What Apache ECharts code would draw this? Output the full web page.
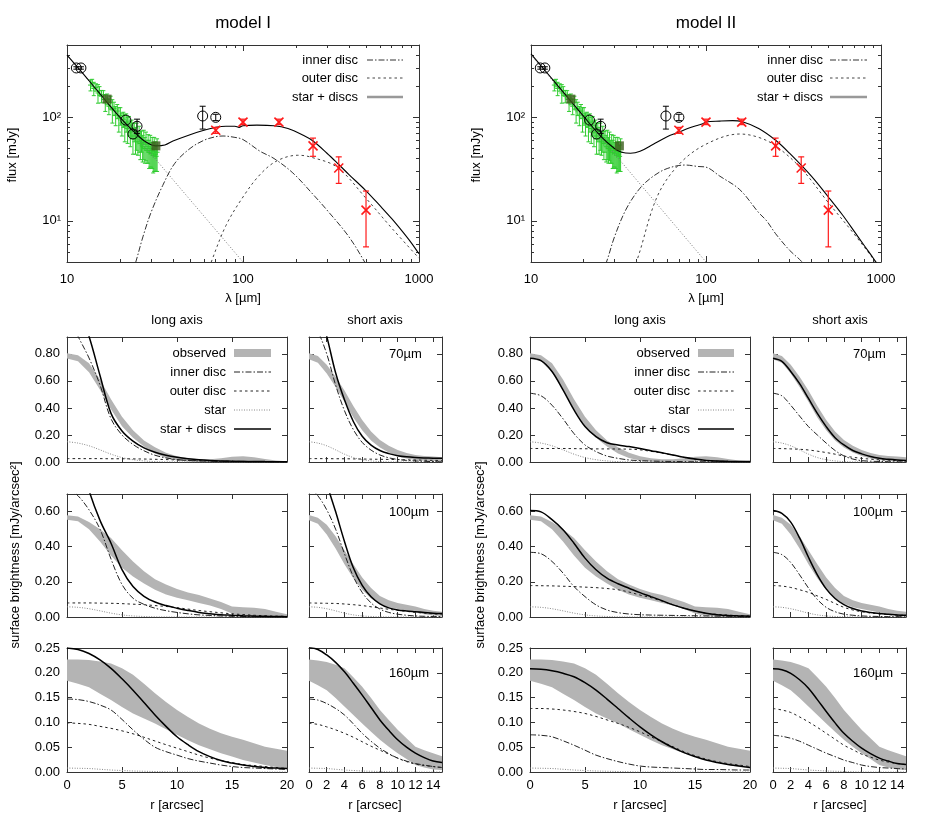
<!DOCTYPE html>
<html><head><meta charset="utf-8">
<script src="https://cdn.jsdelivr.net/npm/echarts@6/dist/echarts.min.js"></script>
<style>html,body{margin:0;padding:0;background:#fff}#c{width:926px;height:834px}</style>
</head><body><div id="c"></div>
<script>
// ================= SED DATA (lambda [um], flux [mJy]) =================
const lamTicksMajor = [10, 100, 1000];
const lamTicksMinor = [20,30,40,50,60,70,80,90,200,300,400,500,600,700,800,900];
const fluxTicksMajor = [10, 100];
const fluxTicksMinor = [5,6,7,8,9,20,30,40,50,60,70,80,90,200,300,400];

const starSED = [[10,400],[30,44.4],[100,4],[110,3.3]];

const m1Total = [[10,400],[12,280],[15,178],[20,100],[25,68],[28,58],[32,53],[36,54],[40,59],[50,68],[60,75],[70,80],[80,82],[90,82],[95,80],[100,83],[120,84],[150,83],[180,78],[220,67],[250,59],[300,45],[350,35],[400,28],[500,19.5],[600,14],[700,10.5],[800,8],[900,6.2],[1000,4.8]];
const m1Inner = [[20,1.5],[24,3.5],[27,7],[30,12],[35,22],[41,36],[50,50],[60,60],[70,65],[77,66],[90,64],[100,61],[125,47],[150,40],[192,29],[250,18],[300,12.7],[400,7],[500,3.8],[600,2.2]];
const m1Outer = [[60,2.5],[66,4],[80,9],[100,17],[125,28],[156,38],[205,43],[240,41.5],[342,33],[500,16.5],[700,8.5],[1000,4.35]];

const m2Total = [[10,410],[12,285],[15,182],[20,102],[25,66],[30,50],[33,46],[37,45],[42,47],[50,55],[60,65],[70,72],[80,79],[90,84],[95,86],[100,90],[120,92],[142,93],[160,91],[200,78],[250,60],[300,45],[400,27],[500,17],[600,11.5],[700,8],[800,5.8],[900,4.4],[1000,3.4]];
const m2Inner = [[25,3],[27,4],[30,7],[35,13],[42,20.7],[50,27],[60,32],[76,34.6],[90,33.5],[100,33],[120,27],[156,20],[200,12],[222,10],[250,7.5],[300,5.2],[354,4],[400,3]];
const m2Outer = [[35,2.5],[40,4],[52.5,17],[70,35],[100,55],[156,69],[200,64],[250,53],[350,32],[500,15],[700,7.5],[930,4],[1000,3.3]];

// Spitzer IRS spectrum points: [lambda, flux, error]
const irsPoints = [[13.6,205,25],[13.9,215,18],[14.2,190,28],[14.6,195,16],[15.0,172,35],[15.3,180,18],[15.7,160,22],[16.1,165,16],[16.5,140,26],[16.9,150,18],[17.3,128,22],[17.7,140,20],[18.1,118,30],[18.5,122,18],[18.9,105,22],[19.3,115,18],[19.7,98,26],[20.1,104,20],[20.5,88,22],[20.9,96,16],[21.3,82,24],[21.7,90,18],[22.1,78,22],[22.5,84,18],[22.9,72,20],[23.3,78,16],[23.7,66,22],[24.1,73,15],[24.5,62,18],[24.9,68,20],[25.3,58,15],[25.7,64,18],[26.1,56,17],[26.5,60,14],[26.9,52,15],[27.3,57,18],[27.7,50,14],[28.1,55,17],[28.5,48,12],[28.9,52,16],[29.3,46,14],[29.7,50,17],[30.1,45,12],[30.5,48,16],[30.9,43,14],[31.3,47,17],[31.7,44,14],[32.1,42,12],[32.5,46,16]];
const irsBins = [[16.9,150],[32,53]];
// other photometry: [lambda, flux, low, high]
const photPoints = [[11.3,300,292,308],[12.0,300,292,308],[21.6,94,94,94],[25,82,70,96],[23.7,69,69,69],[59,103,77,128],[70,100,93,107]];
// Herschel photometry: [lambda, flux, low, high]
const herschelPoints = [[70,75,70,80],[100,90,85,96],[160,90,85,96],[250,53,42,63],[350,32.4,23,41.5],[500,12.7,5.6,19.4]];

// ================= PROFILE DATA =================
const rLong = [0,1,2,3,4,5,6,7,8,9,10,11,12,13,14,15,16,17,18,19,20];
const rShort = [0,1,2,3,4,5,6,7,8,9,10,11,12,13,14,15];
const longTicks = [0,5,10,15,20];
const shortTicks = [0,2,4,6,8,10,12,14];
const yTicks70 = [0,0.2,0.4,0.6,0.8];
const yTicks100 = [0,0.2,0.4,0.6];
const yTicks160 = [0,0.05,0.10,0.15,0.20,0.25];

// observed bands
const obs70LongLo  = [0.765,0.745,0.665,0.535,0.39,0.265,0.18,0.115,0.062,0.03,0.012,0.004,0.0,0.0,0.002,0.01,0.012,0.008,0.003,0.0,0.0];
const obs70LongHi  = [0.805,0.79,0.73,0.61,0.465,0.335,0.235,0.16,0.11,0.068,0.042,0.028,0.02,0.02,0.028,0.038,0.042,0.035,0.022,0.012,0.006];
const obs70ShortLo = [0.76,0.735,0.655,0.555,0.445,0.33,0.235,0.16,0.108,0.07,0.044,0.025,0.015,0.01,0.007,0.005];
const obs70ShortHi = [0.805,0.785,0.72,0.63,0.53,0.415,0.31,0.225,0.163,0.12,0.089,0.066,0.052,0.045,0.04,0.035];
const obs100LongLo  = [0.554,0.545,0.50,0.43,0.35,0.28,0.23,0.19,0.155,0.128,0.11,0.095,0.08,0.065,0.045,0.02,0.005,0.002,0.0,0.0,0.0];
const obs100LongHi  = [0.579,0.572,0.54,0.50,0.45,0.38,0.316,0.26,0.215,0.185,0.16,0.14,0.125,0.105,0.085,0.06,0.055,0.052,0.045,0.03,0.015];
const obs100ShortLo = [0.55,0.53,0.47,0.39,0.30,0.22,0.155,0.105,0.075,0.055,0.045,0.035,0.025,0.015,0.008,0.005];
const obs100ShortHi = [0.58,0.565,0.525,0.46,0.38,0.30,0.225,0.165,0.12,0.095,0.08,0.07,0.06,0.045,0.035,0.03];
const obs160LongLo  = [0.184,0.178,0.171,0.158,0.145,0.131,0.118,0.108,0.098,0.086,0.075,0.064,0.054,0.046,0.038,0.031,0.024,0.019,0.014,0.01,0.007];
const obs160LongHi  = [0.227,0.227,0.226,0.223,0.219,0.209,0.196,0.178,0.159,0.141,0.125,0.111,0.098,0.087,0.078,0.071,0.065,0.058,0.051,0.047,0.043];
const obs160ShortLo = [0.184,0.175,0.165,0.149,0.132,0.115,0.098,0.081,0.065,0.051,0.038,0.026,0.014,0.009,0.005,0.004];
const obs160ShortHi = [0.227,0.225,0.222,0.216,0.209,0.191,0.172,0.149,0.125,0.105,0.085,0.068,0.051,0.044,0.038,0.032];

// star (point source)
const star70  = [0.15,0.14,0.12,0.09,0.058,0.033,0.017,0.008,0.003,0.001,0.0005,0.0002,0,0,0,0,0,0,0,0,0];
const star100 = [0.058,0.055,0.047,0.035,0.022,0.012,0.006,0.003,0.001,0.0005,0,0,0,0,0,0,0,0,0,0,0];
const star160 = [0.008,0.0075,0.007,0.0055,0.004,0.003,0.002,0.0015,0.001,0.0005,0,0,0,0,0,0,0,0,0,0,0];

// model I
const m1_70L_total = [1.25,1.15,0.93,0.64,0.36,0.23,0.155,0.105,0.072,0.05,0.035,0.024,0.016,0.011,0.008,0.006,0.005,0.004,0.003,0.0025,0.002];
const m1_70L_inner = [1.1,0.93,0.77,0.57,0.32,0.2,0.13,0.083,0.05,0.03,0.018,0.012,0.008,0.006,0.004,0.003,0.002,0.0015,0.001,0.001,0.001];
const m1_70L_outer = [0.025,0.025,0.025,0.025,0.024,0.024,0.023,0.022,0.02,0.018,0.015,0.012,0.01,0.008,0.006,0.005,0.004,0.003,0.002,0.0015,0.001];
const m1_70S_total = [1.25,1.15,0.93,0.66,0.46,0.3,0.19,0.125,0.085,0.062,0.047,0.038,0.033,0.03,0.028,0.027];
const m1_70S_inner = [1.1,0.97,0.8,0.57,0.38,0.24,0.145,0.088,0.052,0.031,0.019,0.012,0.008,0.005,0.003,0.002];
const m1_70S_outer = [0.025,0.025,0.025,0.024,0.024,0.023,0.022,0.021,0.02,0.019,0.018,0.016,0.015,0.013,0.012,0.011];
const m1_100L_total = [1.05,0.95,0.72,0.55,0.42,0.27,0.173,0.118,0.085,0.065,0.05,0.037,0.026,0.019,0.013,0.01,0.007,0.005,0.004,0.003,0.002];
const m1_100L_inner = [0.74,0.69,0.61,0.5,0.33,0.185,0.107,0.072,0.05,0.036,0.026,0.018,0.012,0.009,0.006,0.004,0.003,0.002,0.002,0.001,0.001];
const m1_100L_outer = [0.08,0.08,0.08,0.079,0.078,0.076,0.073,0.07,0.065,0.06,0.053,0.045,0.037,0.03,0.024,0.018,0.014,0.01,0.007,0.005,0.004];
const m1_100S_total = [1.05,0.95,0.76,0.6,0.43,0.28,0.18,0.115,0.075,0.052,0.04,0.034,0.03,0.026,0.022,0.02];
const m1_100S_inner = [0.74,0.69,0.61,0.5,0.36,0.23,0.14,0.08,0.045,0.026,0.016,0.01,0.006,0.004,0.003,0.002];
const m1_100S_outer = [0.08,0.079,0.078,0.077,0.074,0.07,0.065,0.058,0.051,0.044,0.038,0.032,0.027,0.022,0.018,0.015];
const m1_160L_total = [0.25,0.247,0.239,0.226,0.209,0.188,0.165,0.14,0.115,0.092,0.071,0.055,0.041,0.031,0.023,0.018,0.014,0.011,0.009,0.008,0.007];
const m1_160L_inner = [0.147,0.146,0.142,0.135,0.125,0.106,0.085,0.066,0.05,0.041,0.034,0.027,0.022,0.018,0.014,0.011,0.009,0.008,0.007,0.006,0.005];
const m1_160L_outer = [0.099,0.098,0.096,0.092,0.088,0.083,0.077,0.07,0.0625,0.055,0.048,0.041,0.034,0.028,0.023,0.019,0.015,0.013,0.011,0.009,0.007];
const m1_160S_total = [0.251,0.247,0.236,0.221,0.202,0.179,0.155,0.13,0.105,0.084,0.065,0.05,0.038,0.029,0.022,0.019];
const m1_160S_inner = [0.147,0.145,0.138,0.128,0.115,0.097,0.078,0.062,0.048,0.037,0.028,0.022,0.017,0.014,0.011,0.009];
const m1_160S_outer = [0.098,0.096,0.091,0.085,0.078,0.07,0.061,0.052,0.044,0.036,0.028,0.021,0.016,0.013,0.011,0.009];

// model II
const m2_70L_total = [0.768,0.75,0.67,0.533,0.385,0.262,0.188,0.143,0.126,0.114,0.10,0.084,0.069,0.052,0.035,0.022,0.012,0.007,0.005,0.004,0.003];
const m2_70L_inner = [0.509,0.49,0.42,0.32,0.21,0.126,0.077,0.044,0.027,0.015,0.01,0.007,0.005,0.004,0.003,0.002,0.002,0.001,0.001,0.001,0.001];
const m2_70L_outer = [0.10,0.10,0.10,0.10,0.099,0.098,0.097,0.097,0.096,0.095,0.09,0.079,0.066,0.05,0.034,0.021,0.011,0.006,0.004,0.003,0.002];
const m2_70S_total = [0.768,0.745,0.67,0.58,0.47,0.36,0.262,0.18,0.126,0.085,0.06,0.04,0.027,0.02,0.015,0.012];
const m2_70S_inner = [0.509,0.49,0.42,0.34,0.262,0.2,0.14,0.085,0.045,0.022,0.01,0.006,0.004,0.002,0.001,0.001];
const m2_70S_outer = [0.10,0.099,0.097,0.094,0.089,0.08,0.07,0.058,0.044,0.035,0.027,0.021,0.016,0.013,0.01,0.008];
const m2_100L_total = [0.606,0.598,0.554,0.497,0.42,0.335,0.269,0.221,0.189,0.164,0.139,0.116,0.093,0.069,0.05,0.034,0.021,0.013,0.008,0.006,0.004];
const m2_100L_inner = [0.368,0.36,0.316,0.25,0.173,0.116,0.069,0.04,0.025,0.017,0.013,0.011,0.01,0.009,0.008,0.007,0.006,0.005,0.004,0.003,0.002];
const m2_100L_outer = [0.179,0.178,0.177,0.175,0.173,0.17,0.167,0.162,0.155,0.142,0.125,0.11,0.09,0.07,0.05,0.034,0.021,0.015,0.011,0.008,0.006];
const m2_100S_total = [0.606,0.59,0.54,0.45,0.34,0.24,0.16,0.105,0.07,0.048,0.034,0.026,0.02,0.016,0.012,0.01];
const m2_100S_inner = [0.368,0.355,0.31,0.24,0.165,0.1,0.055,0.03,0.016,0.01,0.006,0.004,0.003,0.002,0.002,0.002];
const m2_100S_outer = [0.179,0.176,0.168,0.155,0.14,0.12,0.1,0.077,0.055,0.04,0.03,0.023,0.018,0.014,0.011,0.01];
const m2_160L_total = [0.208,0.207,0.204,0.199,0.192,0.18,0.165,0.147,0.128,0.109,0.091,0.075,0.061,0.049,0.039,0.031,0.024,0.019,0.015,0.012,0.009];
const m2_160L_inner = [0.075,0.074,0.071,0.063,0.054,0.044,0.034,0.027,0.021,0.016,0.012,0.01,0.009,0.008,0.007,0.006,0.005,0.005,0.0045,0.004,0.004];
const m2_160L_outer = [0.128,0.128,0.127,0.125,0.122,0.118,0.112,0.105,0.098,0.09,0.081,0.071,0.061,0.051,0.041,0.033,0.026,0.021,0.017,0.014,0.011];
const m2_160S_total = [0.208,0.206,0.199,0.186,0.169,0.146,0.122,0.099,0.078,0.062,0.048,0.037,0.028,0.022,0.017,0.015];
const m2_160S_inner = [0.074,0.072,0.068,0.062,0.054,0.046,0.038,0.031,0.024,0.019,0.014,0.011,0.009,0.008,0.007,0.006];
const m2_160S_outer = [0.128,0.125,0.12,0.111,0.101,0.09,0.078,0.066,0.054,0.045,0.036,0.03,0.024,0.02,0.017,0.015];

// ================= BUILD =================
const FRAME = '#333';
const FONT = '"Liberation Sans", Arial, Helvetica, sans-serif';
const BAND = '#b4b4b4';
const INNER_DASH = [6, 2, 1.5, 2];
const OUTER_DASH = [2.5, 3];
const STAR_DASH = [1, 1.5];
const SUP = {1: '\u00b9', 2: '\u00b2', 3: '\u00b3'};
const lg = Math.log10;

const grids = [], xAxis = [], yAxis = [], series = [];

function mkAxis(gi, pos, min, max, ticks, len, line, label) {
  return {
    gridIndex: gi, type: 'value', position: pos, min: min, max: max,
    axisLine: {show: line, onZero: false, lineStyle: {color: FRAME, width: 1}},
    axisTick: {show: true, inside: true, length: len, customValues: ticks, lineStyle: {color: FRAME, width: 1}},
    axisLabel: label ? {show: true, customValues: label.values, formatter: label.fmt, color: '#000',
      fontSize: 13, fontFamily: FONT, margin: label.margin} : {show: false},
    splitLine: {show: false}, axisPointer: {show: false}
  };
}
function addGrid(box, xc, yc) {
  const gi = grids.length;
  grids.push({left: box[0], top: box[1], width: box[2], height: box[3]});
  const xi = xAxis.length;
  xAxis.push(mkAxis(gi, 'bottom', xc.min, xc.max, xc.major, xc.len || 5, true, xc.label));
  xAxis.push(mkAxis(gi, 'top', xc.min, xc.max, xc.major, xc.len || 5, true, null));
  if (xc.minor) {
    xAxis.push(mkAxis(gi, 'bottom', xc.min, xc.max, xc.minor, 3, false, null));
    xAxis.push(mkAxis(gi, 'top', xc.min, xc.max, xc.minor, 3, false, null));
  }
  const yi = yAxis.length;
  yAxis.push(mkAxis(gi, 'left', yc.min, yc.max, yc.major, yc.len || 5, true, yc.label));
  yAxis.push(mkAxis(gi, 'right', yc.min, yc.max, yc.major, yc.len || 5, true, null));
  if (yc.minor) {
    yAxis.push(mkAxis(gi, 'left', yc.min, yc.max, yc.minor, 3, false, null));
    yAxis.push(mkAxis(gi, 'right', yc.min, yc.max, yc.minor, 3, false, null));
  }
  return {xi: xi, yi: yi};
}

// ---------- SED panels ----------
const toLog = arr => arr.map(p => [lg(p[0]), lg(p[1])]);
function sedAxes(left) {
  return addGrid([left, 45, left === 67 ? 352 : 350, 217],
    {min: 1, max: 3, major: lamTicksMajor.map(lg), minor: lamTicksMinor.map(lg), len: 6,
     label: {values: lamTicksMajor.map(lg), fmt: v => String(Math.round(Math.pow(10, v))), margin: 11}},
    {min: lg(4), max: lg(500), major: fluxTicksMajor.map(lg), minor: fluxTicksMinor.map(lg), len: 6,
     label: {values: fluxTicksMajor.map(lg), fmt: v => '10' + SUP[Math.round(v)], margin: 6}});
}
function lineS(ax, data, color, width, dash, z, smooth) {
  return {type: 'line', xAxisIndex: ax.xi, yAxisIndex: ax.yi, data: data, showSymbol: false, symbol: 'none',
    smooth: smooth === undefined ? 0.35 : smooth, clip: true, silent: true, animation: false, z: z,
    lineStyle: {color: color, width: width, type: dash || 'solid'}};
}
function markerSeries(ax, rows, color, kind, z) {
  return {
    type: 'custom', xAxisIndex: ax.xi, yAxisIndex: ax.yi, z: z, silent: true, animation: false,
    data: rows.map(d => [lg(d[0]), lg(d[1]), lg(d[2]), lg(d[3])]),
    encode: {x: 0, y: [1, 2, 3]},
    renderItem: function (params, api) {
      const x = api.value(0);
      const p = api.coord([x, api.value(1)]);
      const a = api.coord([x, api.value(2)]);
      const b = api.coord([x, api.value(3)]);
      const st = {stroke: color, lineWidth: kind === 'cross' ? 1.2 : 1, fill: null};
      const ch = [];
      const cap = kind === 'plus' ? 2 : 3;
      if (Math.abs(a[1] - b[1]) > 1) {
        ch.push({type: 'line', shape: {x1: p[0], y1: a[1], x2: p[0], y2: b[1]}, style: st});
        ch.push({type: 'line', shape: {x1: p[0] - cap, y1: a[1], x2: p[0] + cap, y2: a[1]}, style: st});
        ch.push({type: 'line', shape: {x1: p[0] - cap, y1: b[1], x2: p[0] + cap, y2: b[1]}, style: st});
      }
      if (kind === 'plus') {
        ch.push({type: 'line', shape: {x1: p[0] - 2.5, y1: p[1], x2: p[0] + 2.5, y2: p[1]}, style: st});
        ch.push({type: 'line', shape: {x1: p[0], y1: p[1] - 2.5, x2: p[0], y2: p[1] + 2.5}, style: st});
      } else if (kind === 'circle') {
        ch.push({type: 'circle', shape: {cx: p[0], cy: p[1], r: 5}, style: {stroke: color, lineWidth: 1, fill: 'rgba(0,0,0,0)'}});
      } else if (kind === 'cross') {
        const s = 4.5;
        const st2 = {stroke: color, lineWidth: 1.6};
        ch.push({type: 'line', shape: {x1: p[0] - s, y1: p[1] - s, x2: p[0] + s, y2: p[1] + s}, style: st2});
        ch.push({type: 'line', shape: {x1: p[0] - s, y1: p[1] + s, x2: p[0] + s, y2: p[1] - s}, style: st2});
      }
      return {type: 'group', children: ch};
    }
  };
}
function addSED(left, total, inner, outer) {
  const ax = sedAxes(left);
  series.push(markerSeries(ax, irsPoints.map(d => [d[0], d[1], d[1] - d[2], d[1] + d[2]]), '#2fcc2f', 'plus', 2));
  series.push(lineS(ax, toLog(starSED), '#777', 1, [1, 2], 3, false));
  series.push(lineS(ax, toLog(inner), '#333', 1, INNER_DASH, 3));
  series.push(lineS(ax, toLog(outer), '#444', 1, OUTER_DASH, 3));
  series.push(lineS(ax, toLog(total), '#000', 1.1, 'solid', 4));
  series.push({type: 'scatter', xAxisIndex: ax.xi, yAxisIndex: ax.yi, data: toLog(irsBins), symbol: 'rect',
    symbolSize: 9, itemStyle: {color: '#3b5d1c'}, silent: true, animation: false, z: 5});
  series.push(markerSeries(ax, photPoints, '#000', 'circle', 5));
  series.push(markerSeries(ax, herschelPoints, '#ff1a1a', 'cross', 6));
}
addSED(67, m1Total, m1Inner, m1Outer);
addSED(531, m2Total, m2Inner, m2Outer);

// ---------- profile panels ----------
const rowDefs = [
  {max: 0.925, ticks: yTicks70, top: 337, h: 125},
  {max: 0.70, ticks: yTicks100, top: 494, h: 123},
  {max: 0.25, ticks: yTicks160, top: 648, h: 124}
];
const colLeft = {I: {long: 67, short: 309}, II: {long: 530, short: 773}};
const profiles = [
  ['I', 0, 'long', obs70LongLo, obs70LongHi, m1_70L_inner, m1_70L_outer, star70, m1_70L_total],
  ['I', 0, 'short', obs70ShortLo, obs70ShortHi, m1_70S_inner, m1_70S_outer, star70, m1_70S_total],
  ['I', 1, 'long', obs100LongLo, obs100LongHi, m1_100L_inner, m1_100L_outer, star100, m1_100L_total],
  ['I', 1, 'short', obs100ShortLo, obs100ShortHi, m1_100S_inner, m1_100S_outer, star100, m1_100S_total],
  ['I', 2, 'long', obs160LongLo, obs160LongHi, m1_160L_inner, m1_160L_outer, star160, m1_160L_total],
  ['I', 2, 'short', obs160ShortLo, obs160ShortHi, m1_160S_inner, m1_160S_outer, star160, m1_160S_total],
  ['II', 0, 'long', obs70LongLo, obs70LongHi, m2_70L_inner, m2_70L_outer, star70, m2_70L_total],
  ['II', 0, 'short', obs70ShortLo, obs70ShortHi, m2_70S_inner, m2_70S_outer, star70, m2_70S_total],
  ['II', 1, 'long', obs100LongLo, obs100LongHi, m2_100L_inner, m2_100L_outer, star100, m2_100L_total],
  ['II', 1, 'short', obs100ShortLo, obs100ShortHi, m2_100S_inner, m2_100S_outer, star100, m2_100S_total],
  ['II', 2, 'long', obs160LongLo, obs160LongHi, m2_160L_inner, m2_160L_outer, star160, m2_160L_total],
  ['II', 2, 'short', obs160ShortLo, obs160ShortHi, m2_160S_inner, m2_160S_outer, star160, m2_160S_total]
];
function bandSeries(ax, r, lo, hi) {
  return {
    type: 'custom', xAxisIndex: ax.xi, yAxisIndex: ax.yi, z: 1, silent: true, animation: false,
    data: r.map((x, i) => [x, lo[i], hi[i]]), encode: {x: 0, y: [1, 2]},
    renderItem: function (params, api) {
      if (params.dataIndex !== 0) return null;
      const pts = [];
      for (let i = 0; i < r.length; i++) pts.push(api.coord([r[i], lo[i]]));
      for (let i = r.length - 1; i >= 0; i--) pts.push(api.coord([r[i], hi[i]]));
      return {type: 'polygon', shape: {points: pts}, style: {fill: BAND, stroke: null}};
    }
  };
}
profiles.forEach(function (pr) {
  const model = pr[0], row = rowDefs[pr[1]], isLong = pr[2] === 'long';
  const r = isLong ? rLong : rShort;
  const xt = isLong ? longTicks : shortTicks;
  const ax = addGrid([colLeft[model][pr[2]], row.top, isLong ? 220 : 133, row.h],
    {min: 0, max: isLong ? 20 : 15, major: xt,
     label: pr[1] === 2 ? {values: xt, fmt: v => String(v), margin: 7} : null},
    {min: 0, max: row.max, major: row.ticks,
     label: isLong ? {values: row.ticks, fmt: v => v.toFixed(2), margin: 7} : null});
  const pts = arr => r.map((x, i) => [x, arr[i]]);
  series.push(bandSeries(ax, r, pr[3], pr[4]));
  series.push(lineS(ax, pts(pr[7]), '#888', 1, STAR_DASH, 3));
  series.push(lineS(ax, pts(pr[6]), '#222', 1, OUTER_DASH, 3));
  series.push(lineS(ax, pts(pr[5]), '#222', 1, INNER_DASH, 3));
  series.push(lineS(ax, pts(pr[8]), '#000', 1.5, 'solid', 4));
});

// ---------- texts & legends ----------
const graphic = [];
function txt(x, y, s, opt) {
  opt = opt || {};
  graphic.push({type: 'text', x: x, y: y, rotation: opt.rot || 0, silent: true, z: 50,
    style: {text: s, x: 0, y: 0, fontSize: opt.size || 13, fontFamily: FONT, fill: '#000',
      align: opt.align || 'center', verticalAlign: 'middle', textAlign: opt.align || 'center', textVerticalAlign: 'middle'}});
}
function seg(x1, x2, y, color, width, dash) {
  graphic.push({type: 'line', silent: true, z: 50, shape: {x1: x1, y1: y, x2: x2, y2: y},
    style: {stroke: color, lineWidth: width, lineDash: dash || null}});
}
txt(243, 23, 'model I', {size: 17});
txt(706, 23, 'model II', {size: 17});
txt(12, 155, 'flux [mJy]', {rot: Math.PI / 2});
txt(476, 155, 'flux [mJy]', {rot: Math.PI / 2});
txt(243, 298, '\u03bb [\u00b5m]');
txt(706, 298, '\u03bb [\u00b5m]');
// SED legends
[[358, 367, 403], [823, 830, 867]].forEach(function (L) {
  txt(L[0], 60, 'inner disc', {align: 'right'}); seg(L[1], L[2], 60, '#333', 1, INNER_DASH);
  txt(L[0], 78, 'outer disc', {align: 'right'}); seg(L[1], L[2], 78, '#444', 1, OUTER_DASH);
  txt(L[0], 97, 'star + discs', {align: 'right'}); seg(L[1], L[2], 97, '#999', 2.5, null);
});
// profile column headers
txt(177, 320, 'long axis'); txt(375, 320, 'short axis');
txt(640, 320, 'long axis'); txt(840, 320, 'short axis');
txt(177, 805, 'r [arcsec]'); txt(375, 805, 'r [arcsec]');
txt(640, 805, 'r [arcsec]'); txt(840, 805, 'r [arcsec]');
txt(15, 555, 'surface brightness [mJy/arcsec\u00b2]', {rot: Math.PI / 2});
txt(480, 555, 'surface brightness [mJy/arcsec\u00b2]', {rot: Math.PI / 2});
[389, 853].forEach(function (x) {
  txt(x, 354, '70\u00b5m', {align: 'left'});
  txt(x, 512, '100\u00b5m', {align: 'left'});
  txt(x, 673, '160\u00b5m', {align: 'left'});
});
// profile legends
[[226, 234, 271], [690, 698, 734]].forEach(function (L) {
  txt(L[0], 353, 'observed', {align: 'right'});
  graphic.push({type: 'rect', silent: true, z: 50, shape: {x: L[1], y: 349, width: L[2] - L[1], height: 8}, style: {fill: BAND}});
  txt(L[0], 372, 'inner disc', {align: 'right'}); seg(L[1], L[2], 372, '#222', 1, INNER_DASH);
  txt(L[0], 391, 'outer disc', {align: 'right'}); seg(L[1], L[2], 391, '#222', 1, OUTER_DASH);
  txt(L[0], 410, 'star', {align: 'right'}); seg(L[1], L[2], 410, '#888', 1, STAR_DASH);
  txt(L[0], 429, 'star + discs', {align: 'right'}); seg(L[1], L[2], 429, '#000', 1.5, null);
});

const chart = echarts.init(document.getElementById('c'), null, {renderer: 'canvas'});
chart.setOption({
  backgroundColor: '#fff', animation: false,
  grid: grids, xAxis: xAxis, yAxis: yAxis, series: series, graphic: graphic
});
</script></body></html>
